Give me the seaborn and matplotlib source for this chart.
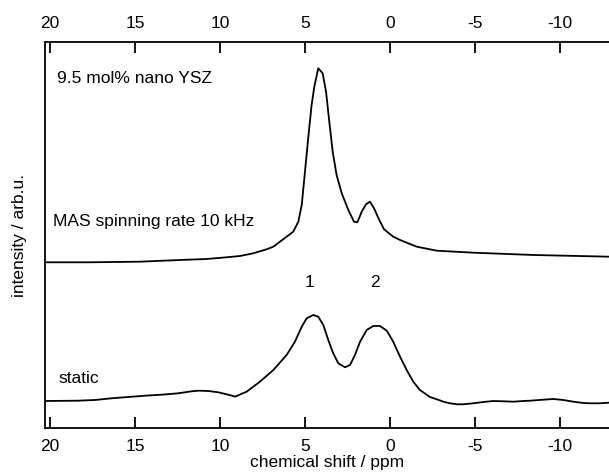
import matplotlib
matplotlib.use("Agg")
import matplotlib.pyplot as plt
import seaborn as sns

# chemical shift (ppm) / intensity (arb.u.)
mas_ppm = [20.26, 17.65, 14.71, 12.35, 10.78, 9.61, 8.82, 8.04, 7.25, 6.86, 6.47, 6.08,
           5.69, 5.39, 5.19, 5.00, 4.81, 4.61, 4.45, 4.22, 3.96, 3.76, 3.57, 3.37, 3.14,
           2.84, 2.45, 2.12, 1.92, 1.66, 1.41, 1.18, 0.94, 0.63, 0.35, -0.19, -0.59,
           -1.57, -2.75, -4.90, -8.43, -12.88]
mas_int = [166.0, 166.0, 166.6, 168.3, 169.3, 171.0, 172.3, 175.0, 179.0, 181.6, 186.6, 191.6,
           196.6, 206.6, 223.3, 256.6, 290.0, 323.3, 341.6, 360.0, 355.0, 336.6, 306.6, 276.6, 253.3,
           235.0, 218.3, 206.6, 206.0, 216.6, 224.0, 226.6, 220.0, 208.3, 199.0, 191.6, 188.3,
           181.6, 177.6, 175.6, 173.3, 171.6]

static_ppm = [20.29, 18.34, 17.35, 16.37, 15.39, 14.41, 13.43, 12.45, 11.66, 11.28, 10.69,
              10.10, 9.61, 9.22, 9.12, 8.43, 7.65, 6.86, 6.08, 5.59, 5.19, 4.90, 4.51, 4.22,
              3.92, 3.63, 3.34, 3.04, 2.65, 2.35, 2.06, 1.76, 1.37, 0.98, 0.59, 0.19, -0.19,
              -0.59, -0.98, -1.37, -1.76, -2.35, -2.75, -3.14, -3.53, -3.92, -4.31, -4.90,
              -5.49, -6.08, -6.67, -7.25, -7.84, -8.24, -9.02, -9.61, -10.19, -10.78, -11.37,
              -11.76, -12.35, -12.88]
static_int = [27.3, 27.6, 28.3, 30.0, 31.3, 32.6, 33.6, 35.0, 37.0, 37.6, 37.3,
              36.0, 34.0, 32.3, 31.6, 36.6, 46.6, 58.3, 73.3, 86.6, 101.6, 110.0, 113.3, 111.6,
              103.3, 88.3, 75.0, 65.0, 61.0, 63.3, 73.3, 86.6, 98.3, 102.3, 102.3, 97.6, 86.6,
              71.6, 58.3, 46.6, 38.3, 31.3, 29.0, 26.6, 25.0, 24.0, 24.0, 25.0,
              26.3, 27.3, 27.0, 26.6, 27.3, 27.6, 28.6, 29.3, 28.3, 26.6, 25.3,
              25.0, 25.0, 25.6]

tick_vals = [20, 15, 10, 5, 0, -5, -10]

sns.set_style("white")
plt.rcParams['font.family'] = ['Liberation Sans', 'DejaVu Sans']
plt.rcParams['text.color'] = 'black'
plt.rcParams['axes.labelcolor'] = 'black'
plt.rcParams['xtick.color'] = 'black'
plt.rcParams['ytick.color'] = 'black'
fs = 12.5

fig = plt.figure(figsize=(6.09, 4.72), dpi=100)
ax = fig.add_axes([0.0747, 0.0926, 0.9253, 0.8191])

sns.lineplot(x=mas_ppm, y=mas_int, ax=ax, color="black", lw=1.3, sort=False)
sns.lineplot(x=static_ppm, y=static_int, ax=ax, color="black", lw=1.3, sort=False)

ax.set_xlim(20.26, -12.88)
ax.set_ylim(0, 386.6)
ax.set_xticks(tick_vals)
ax.set_xticklabels([str(t) for t in tick_vals])
ax.set_yticks([])
ax.tick_params(axis="x", which="both", direction="in", top=True, bottom=True,
               labeltop=True, labelbottom=True, length=8, width=1.3, pad=7.5,
               labelsize=fs, color="black", labelcolor="black")
for side in ["left", "top", "bottom"]:
    ax.spines[side].set_color("black")
    ax.spines[side].set_linewidth(1.3)
ax.spines["right"].set_visible(False)

ax.set_xlabel("chemical shift / ppm", fontsize=fs, labelpad=1)
ax.set_ylabel("intensity / arb.u.", fontsize=fs, labelpad=13)

ax.text(19.57, 350, "9.5 mol% nano YSZ", fontsize=fs, va="center", ha="left")
ax.text(19.81, 206.6, "MAS spinning rate 10 kHz", fontsize=fs, va="center", ha="left")
ax.text(19.51, 50, "static", fontsize=fs, va="center", ha="left")
ax.text(4.71, 146, "1", fontsize=fs, va="center", ha="center")
ax.text(0.88, 146, "2", fontsize=fs, va="center", ha="center")

fig.savefig("out.png", dpi=100)
